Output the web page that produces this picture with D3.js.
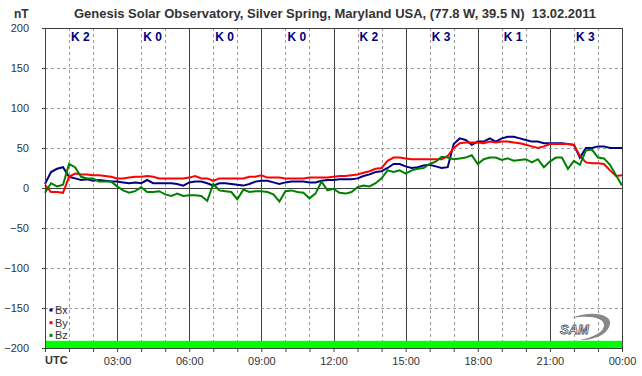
<!DOCTYPE html>
<html>
<head>
<meta charset="utf-8">
<script src="https://cdn.jsdelivr.net/npm/d3@7"></script>
<style>
  body { margin: 0; background: #fff; }
  svg { display: block; font-family: "Liberation Sans", Arial, sans-serif; }
</style>
</head>
<body>
<div id="chart"></div>
<script>
// magnetometer readings, one every 15 min from 00:00 to 24:00 UTC (nT)
var bx = [5, 20, 24, 26, 14, 12, 10, 11, 9, 10, 9, 8, 8, 7, 6, 7, 6, 10, 6, 6,
    6, 6, 5, 3, 7, 8, 8, 6, 3, 6, 6, 5, 4, 3, 5, 8, 9, 9, 7, 5,
    7, 8, 8, 8, 7, 7, 9, 10, 10, 11, 11, 11, 12, 15, 17, 20, 21, 25, 30, 30,
    27, 25, 26, 28, 29, 27, 25, 26, 55, 62, 60, 54, 58, 58, 62, 58, 62, 64, 64, 62,
    60, 58, 58, 56, 56, 56, 56, 55, 54, 38, 50, 50, 52, 52, 50, 50, 50];
var by = [4, -5, -5, -6, 14, 18, 17, 17, 16, 16, 15, 14, 12, 12, 13, 14, 14, 15, 14, 12,
    12, 12, 12, 12, 13, 15, 12, 12, 9, 12, 12, 12, 12, 12, 14, 14, 16, 13, 13, 13,
    12, 12, 12, 12, 13, 13, 13, 13, 14, 15, 15, 16, 17, 19, 21, 24, 25, 34, 38, 38,
    37, 36, 36, 36, 36, 36, 36, 40, 50, 56, 57, 57, 57, 56, 58, 57, 58, 58, 57, 56,
    54, 52, 50, 52, 55, 55, 55, 55, 54, 40, 32, 31, 31, 30, 22, 15, 16];
var bz = [-6, 6, 2, 4, 30, 26, 14, 12, 12, 8, 8, 8, 2, -3, -6, -4, 1, -5, -5, -4,
    -8, -10, -7, -10, -9, -9, -10, -16, 5, -3, -4, -5, -14, -2, -5, -4, -4, -5, -8, -17,
    -4, -3, -5, -6, -13, -7, 8, -3, -1, -6, -7, -5, 1, 3, 2, 6, 12, 22, 20, 22,
    18, 22, 24, 25, 30, 33, 39, 38, 36, 37, 38, 41, 30, 36, 38, 38, 35, 37, 34, 35,
    36, 32, 36, 26, 33, 38, 38, 24, 34, 29, 47, 48, 38, 37, 29, 16, 3];

var kLabels = ["K 2", "K 0", "K 0", "K 0", "K 2", "K 3", "K 1", "K 3"];
var yTicks = [-200, -150, -100, -50, 0, 50, 100, 150, 200];
var xLabels = ["UTC", "03:00", "06:00", "09:00", "12:00", "15:00", "18:00", "21:00", "00:00"];

var series = [
    {name: "Bx", values: bx, color: "#000080"},
    {name: "By", values: by, color: "#ff0000"},
    {name: "Bz", values: bz, color: "#008000"}
];

var width = 642, height = 376;
var margin = {top: 28, right: 20, bottom: 28, left: 45};
var plotW = width - margin.left - margin.right;
var plotH = height - margin.top - margin.bottom;

var svg = d3.select("#chart").append("svg")
    .attr("width", width)
    .attr("height", height);

var x = d3.scaleLinear().domain([0, 24]).range([0, plotW]);
var y = d3.scaleLinear().domain([-200, 200]).range([plotH, 0]);

var chart = svg.append("g")
    .attr("transform", "translate(" + margin.left + "," + margin.top + ")");

// grid
var hours = d3.range(1, 24);
chart.selectAll(".vgrid")
    .data(hours)
    .enter().append("line")
    .attr("x1", function(d) { return Math.round(x(d)) + 0.5; })
    .attr("x2", function(d) { return Math.round(x(d)) + 0.5; })
    .attr("y1", 0)
    .attr("y2", plotH)
    .attr("stroke", function(d) { return d % 3 == 0 ? "#404040" : "#999"; })
    .attr("stroke-dasharray", function(d) { return d % 3 == 0 ? null : "3,3"; });

chart.selectAll(".hgrid")
    .data(yTicks.filter(function(d) { return Math.abs(d) < 200; }))
    .enter().append("line")
    .attr("x1", 0)
    .attr("x2", plotW)
    .attr("y1", function(d) { return Math.round(y(d)) + 0.5; })
    .attr("y2", function(d) { return Math.round(y(d)) + 0.5; })
    .attr("stroke", function(d) { return d == 0 ? "#404040" : "#999"; })
    .attr("stroke-dasharray", function(d) { return d == 0 ? null : "3,3"; });

// K index labels
chart.selectAll(".klabel")
    .data(kLabels)
    .enter().append("text")
    .attr("x", function(d, i) { return x(i * 3 + 1) + 2; })
    .attr("y", 13)
    .attr("font-size", "12px")
    .attr("font-weight", "bold")
    .attr("fill", "#000080")
    .text(function(d) { return d; });

// lines
var line = d3.line()
    .x(function(d, i) { return x(i * 0.25); })
    .y(function(d) { return y(d); });

chart.selectAll(".series")
    .data(series)
    .enter().append("path")
    .attr("d", function(d) { return line(d.values); })
    .attr("fill", "none")
    .attr("stroke", function(d) { return d.color; })
    .attr("stroke-width", 2)
    .attr("stroke-linejoin", "miter");

// green band at the bottom
chart.append("rect")
    .attr("x", 0)
    .attr("y", y(-191))
    .attr("width", plotW)
    .attr("height", y(-200) - y(-191))
    .attr("fill", "#00ff00");

// frame
chart.append("rect")
    .attr("x", 0.5)
    .attr("y", 0.5)
    .attr("width", plotW)
    .attr("height", plotH)
    .attr("fill", "none")
    .attr("stroke", "#404040");

// axes
var yAxis = chart.append("g")
    .attr("class", "axis")
    .call(d3.axisLeft(y).tickValues(yTicks).tickSize(3).tickPadding(13));
var xAxis = chart.append("g")
    .attr("class", "axis")
    .attr("transform", "translate(0," + plotH + ")")
    .call(d3.axisBottom(x).tickValues(d3.range(0, 25)).tickSize(4).tickPadding(5)
        .tickFormat(function(d) { return d % 3 == 0 && d > 0 ? xLabels[d / 3] : ""; }));

svg.selectAll(".axis .domain").remove();
svg.selectAll(".axis line").attr("stroke", "#404040");
svg.selectAll(".axis text")
    .attr("fill", "#333")
    .attr("font-size", "11px")
    .attr("font-family", "'Liberation Sans', Arial, sans-serif");

chart.append("text")
    .attr("x", 0)
    .attr("y", plotH + 16)
    .attr("font-size", "11px")
    .attr("font-weight", "bold")
    .attr("fill", "#333")
    .text(xLabels[0]);

// title and unit
svg.append("text")
    .attr("x", 335)
    .attr("y", 18)
    .attr("text-anchor", "middle")
    .attr("font-size", "13px")
    .attr("font-weight", "bold")
    .attr("fill", "#333")
    .attr("xml:space", "preserve")
    .style("white-space", "pre")
    .text("Genesis Solar Observatory, Silver Spring, Maryland USA, (77.8 W, 39.5 N)  13.02.2011");

svg.append("text")
    .attr("x", 14)
    .attr("y", 18)
    .attr("font-size", "12px")
    .attr("font-weight", "bold")
    .attr("fill", "#333")
    .text("nT");

// legend
var legend = chart.selectAll(".legend")
    .data(series)
    .enter().append("g")
    .attr("transform", function(d, i) { return "translate(6," + (282 + i * 12.7) + ")"; });
legend.append("rect")
    .attr("x", -1.5).attr("y", -1.5).attr("width", 3).attr("height", 3)
    .attr("fill", function(d) { return d.color; });
legend.append("text")
    .attr("x", 4)
    .attr("y", 4)
    .attr("font-size", "11px")
    .attr("fill", "#333")
    .text(function(d) { return d.name; });

// SAM logo
var logo = svg.append("g").attr("transform", "translate(560,312)");
logo.append("path")
    .attr("d", "M12,6 C30,-2 52,2 50,12 C48,22 36,28 20,28 C34,25 44,20 44,13 C44,6 30,3 12,6 Z")
    .attr("fill", "#888");
logo.append("text")
    .attr("x", 0)
    .attr("y", 22)
    .attr("font-size", "13px")
    .attr("font-style", "italic")
    .attr("font-weight", "bold")
    .attr("fill", "#fff")
    .attr("stroke", "#556")
    .attr("stroke-width", 0.8)
    .text("SAM");
</script>
</body>
</html>
